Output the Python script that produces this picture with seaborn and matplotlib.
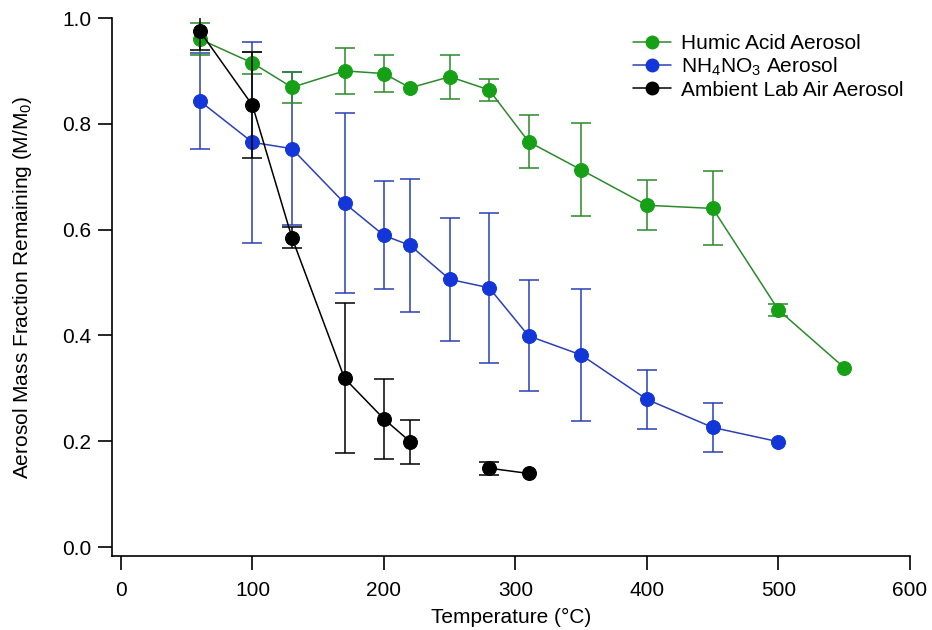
import numpy as np
import pandas as pd
import matplotlib
matplotlib.use("Agg")
import matplotlib.pyplot as plt
import seaborn as sns

# ------------------ Data ------------------
humic_temp = [60, 100, 130, 170, 200, 220, 250, 280, 310, 350, 400, 450, 500, 550]
humic_frac = [0.960, 0.915, 0.869, 0.900, 0.895, 0.868, 0.889, 0.864, 0.766, 0.713, 0.646, 0.640, 0.448, 0.339]
humic_err = [0.030, 0.021, 0.029, 0.043, 0.035, 0.0, 0.042, 0.021, 0.050, 0.088, 0.047, 0.070, 0.012, 0.0]

nh4_temp = [60, 100, 130, 170, 200, 220, 250, 280, 310, 350, 400, 450, 500]
nh4_frac = [0.843, 0.765, 0.753, 0.650, 0.589, 0.570, 0.506, 0.490, 0.399, 0.363, 0.279, 0.226, 0.199]
nh4_err = [0.090, 0.190, 0.145, 0.170, 0.102, 0.126, 0.116, 0.142, 0.105, 0.124, 0.055, 0.046, 0.0]

# ambient air has a gap between 220 and 280 C, so two line segments
amb_temp = [60, 100, 130, 170, 200, 220, 280, 310]
amb_frac = [0.975, 0.835, 0.585, 0.319, 0.242, 0.199, 0.149, 0.139]
amb_err = [0.035, 0.100, 0.020, 0.142, 0.075, 0.042, 0.012, 0.0]
amb_segment = [1, 1, 1, 1, 1, 1, 2, 2]

series_names = ["Humic Acid Aerosol", r"NH$_4$NO$_3$ Aerosol", "Ambient Lab Air Aerosol"]
marker_colors = ["#16a016", "#1236d8", "#000000"]
line_colors = ["#2a8a2a", "#2a40b4", "#000000"]

# ------------------ Style ------------------
sns.set_style("white")
plt.rcParams["font.family"] = ["Liberation Sans", "DejaVu Sans"]
plt.rcParams["mathtext.fontset"] = "custom"
plt.rcParams["mathtext.rm"] = "Liberation Sans"
plt.rcParams["mathtext.it"] = "Liberation Sans:italic"
plt.rcParams["text.color"] = "black"
plt.rcParams["axes.labelcolor"] = "black"
plt.rcParams["xtick.color"] = "black"
plt.rcParams["ytick.color"] = "black"

fig = plt.figure(figsize=(9.32, 6.30), dpi=100)
ax = fig.add_axes([112 / 932, 1 - 556 / 630, (910 - 112) / 932, (556 - 18) / 630])

humic = pd.DataFrame({"temp": humic_temp, "frac": humic_frac, "err": humic_err, "segment": 1})
nh4 = pd.DataFrame({"temp": nh4_temp, "frac": nh4_frac, "err": nh4_err, "segment": 1})
amb = pd.DataFrame({"temp": amb_temp, "frac": amb_frac, "err": amb_err, "segment": amb_segment})

frames = [humic, nh4, amb]
draw_order = [1, 0, 2]  # blue underneath, black on top
handles = [None, None, None]
for z, i in enumerate(draw_order):
    df = frames[i]
    has_err = df["err"] > 0
    ax.errorbar(df.loc[has_err, "temp"], df.loc[has_err, "frac"], yerr=df.loc[has_err, "err"],
                fmt="none", ecolor=line_colors[i], elinewidth=1.1, capsize=7.5, capthick=1.1,
                zorder=2 + 2 * z)
    sns.lineplot(data=df, x="temp", y="frac", units="segment", estimator=None, ax=ax,
                 color=line_colors[i], linewidth=1.1, marker="o", markersize=10,
                 markerfacecolor=marker_colors[i], markeredgecolor=marker_colors[i],
                 zorder=3 + 2 * z, legend=False)
    handles[i] = plt.Line2D([], [], color=line_colors[i], linewidth=1.1, marker="o",
                            markersize=9, markerfacecolor=marker_colors[i],
                            markeredgecolor=marker_colors[i])

ax.set_xlim(-6.8, 600)
ax.set_ylim(-0.017, 1.0)
ax.set_xticks(np.arange(0, 601, 100))
ax.set_yticks(np.arange(0, 1.01, 0.2))
ax.set_yticklabels([f"{v:.1f}" for v in np.arange(0, 1.01, 0.2)])

sns.despine(ax=ax)
for side in ["left", "bottom"]:
    ax.spines[side].set_linewidth(1.2)
    ax.spines[side].set_color("black")
ax.tick_params(axis="both", direction="out", length=10, width=1.2, color="black",
               labelsize=15, pad=5, left=True, bottom=True)
ax.tick_params(axis="x", pad=8)

ax.set_xlabel("Temperature (°C)", fontsize=15, labelpad=6)
ax.set_ylabel("Aerosol Mass Fraction Remaining (M/M$_0$)", fontsize=15, labelpad=20)

ax.legend(handles, series_names, loc="upper right", bbox_to_anchor=(1.008, 0.993), frameon=False,
          fontsize=15, handlelength=1.8, handletextpad=0.5, labelspacing=0.12, borderaxespad=0.2)

fig.savefig("out.png", dpi=100)
